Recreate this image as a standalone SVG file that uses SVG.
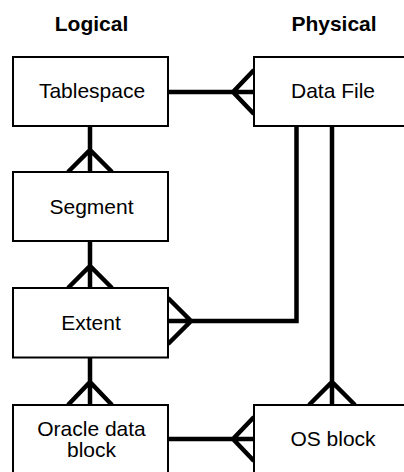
<svg xmlns="http://www.w3.org/2000/svg" width="404" height="472" viewBox="0 0 404 472">
<style>
.box{fill:#fff;stroke:#000;stroke-width:2}
.lbl{font-family:"Liberation Sans",Arial,sans-serif;font-size:21px;fill:#000;text-anchor:middle}
.ttl{font-family:"Liberation Sans",Arial,sans-serif;font-size:21px;font-weight:bold;fill:#000;text-anchor:middle}
.con{fill:none;stroke:#000;stroke-width:4.5;stroke-linejoin:miter}
</style>
<rect width="404" height="472" fill="#fff"/>
<text class="ttl" x="91.5" y="31">Logical</text>
<text class="ttl" x="334" y="31">Physical</text>
<g id="connectors">
<path class="con" d="M168 92 H254 M254 70 L233 92 L254 114"/>
<path class="con" d="M90 126 V172 M68 172 L90 150 L112 172"/>
<path class="con" d="M90 241 V288 M68 288 L90 266 L112 288"/>
<path class="con" d="M90 357 V405 M68 405 L90 382 L112 405"/>
<path class="con" d="M168 439 H254 M254 417 L233 439 L254 461"/>
<path class="con" d="M296.5 126 V321 H168 M168 298 L191 321 L168 344"/>
<path class="con" d="M332 126 V405 M309 405 L332 382 L355 405"/>
</g>
<g id="tablespace"><rect class="box" x="13" y="57" width="155" height="69"/><text class="lbl" x="92" y="97.5">Tablespace</text></g>
<g id="datafile"><rect class="box" x="254" y="57" width="155" height="69"/><text class="lbl" x="333" y="97.5">Data File</text></g>
<g id="segment"><rect class="box" x="13" y="172" width="155" height="69"/><text class="lbl" x="91.5" y="213.5">Segment</text></g>
<g id="extent"><rect class="box" x="13" y="288" width="155" height="69.5"/><text class="lbl" x="91" y="329.5">Extent</text></g>
<g id="oracleblock"><rect class="box" x="13" y="405" width="155" height="69"/><text class="lbl" x="91.5" y="436">Oracle data</text><text class="lbl" x="91.5" y="457">block</text></g>
<g id="osblock"><rect class="box" x="254" y="405" width="155" height="69"/><text class="lbl" x="333" y="446">OS block</text></g>
</svg>
